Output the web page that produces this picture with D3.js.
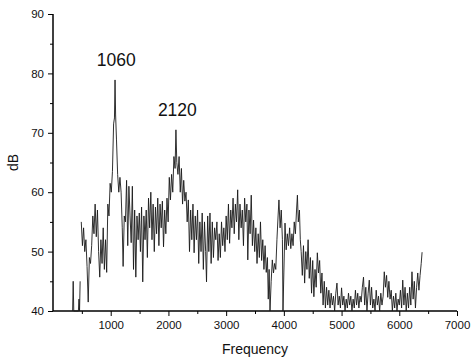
<!DOCTYPE html>
<html>
<head>
<meta charset="utf-8">
<script src="https://cdn.jsdelivr.net/npm/d3@7"></script>
<style>
  body { margin: 0; background: #fff; }
  text { font-family: "Liberation Sans", Arial, sans-serif; }
</style>
</head>
<body>
<div id="chart"></div>
<script>
// spectrum (Hz, dB); null breaks the trace
const freq = [
  340, 350, 360, 440, 450, 460, 470, 480,
  490, 510, 530, 550, 570, 590, 610, 630, 650, 670, 690, 710, 730, 750, 770, 790, 810, 830, 850, 870, 890, 910, 930, 950, 970, 990,
  1010, 1030, 1050, 1065, 1075, 1085, 1100, 1120, 1140, 1160, 1180, 1200, 1215, 1235, 1255, 1275, 1295, 1315, 1335, 1355, 1375, 1395,
  1415, 1435, 1455, 1475, 1495, 1515, 1535, 1555, 1575, 1595, 1615, 1635, 1655, 1675, 1695, 1715, 1735, 1755, 1775, 1795, 1815, 1835,
  1855, 1875, 1895, 1915, 1935, 1955, 1975, 1995, 2015, 2035, 2055, 2075, 2095, 2115, 2130, 2145, 2165, 2185, 2205, 2225, 2245, 2265,
  2285, 2305, 2325, 2345, 2365, 2385, 2405, 2425, 2445, 2465, 2485, 2505, 2525, 2545, 2565, 2585, 2605, 2625, 2645, 2660, 2680, 2700,
  2720, 2740, 2760, 2780, 2800, 2820, 2840, 2860, 2880, 2900, 2920, 2940, 2960, 2980, 3000, 3020, 3040, 3060, 3080, 3100, 3120, 3140,
  3160, 3180, 3200, 3220, 3240, 3260, 3280, 3300, 3320, 3340, 3360, 3375, 3395, 3415, 3435, 3455, 3475, 3495, 3515, 3535, 3555, 3575,
  3595, 3615, 3635, 3655, 3675, 3695, 3715, 3730, 3745, 3760, 3780, 3800, 3820, 3840, 3860, 3880, 3900, 3915, 3935, 3955, 3975, 3985,
  4000, 4020, 4040, 4060, 4080, 4100, 4120, 4140, 4160, 4180, 4200, 4220, 4235, 4250, 4270, 4285, 4300, 4320, 4340, 4360, 4380, 4400,
  4420, 4440, 4460, 4480, 4500, 4520, 4540, 4560, 4580, 4600, 4620, 4640, 4660, 4680, 4700, 4720, 4740, 4760, 4780, 4800, 4820, 4840,
  4860, 4880, 4900, 4920, 4940, 4960, 4980, 5000, 5020, 5040, 5060, 5080, 5100, 5120, 5140, 5160, 5180, 5200, 5220, 5240, 5260, 5280,
  5300, 5320, 5340, 5360, 5380, 5400, 5420, 5440, 5460, 5480, 5500, 5520, 5540, 5560, 5580, 5600, 5620, 5640, 5660, 5680, 5700, 5720,
  5740, 5760, 5780, 5800, 5820, 5840, 5860, 5880, 5900, 5920, 5940, 5960, 5980, 6000, 6020, 6040, 6060, 6080, 6100, 6120, 6140, 6160,
  6180, 6200, 6220, 6240, 6260, 6280, 6300, 6320, 6340, 6360, 6380, 6395
];
const dB = [
  40, 45, 40, 40, 42, 40, 45, null,
  55, 51, 54, 50, 52, 47.5, 41.5, 49, 48, 51, 56, 53, 58, 52.5, 57, 50, 45.7, 52, 48, 54, 47, 52, 46.5, 58, 56, 61.5,
  60, 63.5, 71.5, 72.5, 78.9, 73, 68.8, 63, 60, 62.5, 60, 54, 47.5, 56, 55, 62, 51, 61, 56, 51.5, 61, 47,
  57, 45.7, 56, 52, 56.5, 50, 57.5, 44.9, 56, 52, 57, 49, 59, 54, 60, 52, 58, 50, 57.5, 53, 59, 51,
  58, 54, 58.5, 50.8, 57, 53, 59, 55, 62.5, 58.7, 63, 60, 66, 64, 70.5, 65, 63, 66, 60, 64, 58, 62,
  58.5, 60, 55, 58.7, 50, 57, 52, 58, 49.8, 56, 52, 57, 48, 55, 50, 56.5, 47, 55, 50, 44.9, 56, 50,
  56.5, 48, 55, 49, 54, 52, 55, 48.5, 53, 49, 55, 51, 54, 50, 56, 52, 58, 51.4, 57, 54, 59, 53,
  58, 55, 60.4, 52, 58, 54, 57, 51, 59, 55, 58, 48.6, 57, 53, 59.5, 51, 55.3, 50, 54, 48, 53, 49,
  55, 48.5, 52, 47, 51, 46.5, 49, 42, 47, 40, 45, 48.6, 46.4, 48, 47, 52, 56, 58.7, 54, 57, 52, 40,
  46.4, 54.8, 50.3, 53, 51, 54, 50.5, 53, 51, 55, 53, 57, 59.5, 55, 57, 52, 50, 46, 51, 44.7, 50, 47,
  52, 45.5, 49, 43, 48.5, 42.4, 47, 44, 49.8, 46.4, 48.5, 43, 46.4, 41, 45, 40.5, 44, 41, 43.5, 40.5, 43, 41,
  42.5, 40, 43, 44.7, 41, 42.5, 40.5, 43.9, 41, 42.5, 40, 42, 40.5, 43, 41, 42.5, 40, 42, 40.5, 43.5, 41, 43,
  40.5, 42.5, 41.5, 44, 45.7, 41, 44, 40, 43, 45.2, 41, 44, 40.5, 42, 40, 43.5, 41, 42.5, 40, 43, 41, 42.5,
  46.6, 44, 46, 42.3, 45, 42, 43.5, 40, 42.5, 40.5, 43, 40, 42, 41, 43.5, 40.5, 45.2, 41, 44, 40, 43, 40.5,
  44, 41, 46.6, 42, 45, 40.5, 44, 46.4, 43.5, 46, 48, 49.9
];
const xTicks = [1000, 2000, 3000, 4000, 5000, 6000, 7000];
const xMinor = [500, 1500, 2500, 3500, 4500, 5500, 6500];
const yTicks = [40, 50, 60, 70, 80, 90];
const yMinor = [45, 55, 65, 75, 85];
const peaks = [
  { f: 1060, label: "1060", at: 81.2 },
  { f: 2120, label: "2120", at: 72.8 }
];

const width = 471, height = 363;
const margin = { top: 14, right: 14, bottom: 52, left: 53 };

const svg = d3.select("#chart").append("svg")
  .attr("width", width)
  .attr("height", height);

const x = d3.scaleLinear().domain([0, 7000]).range([margin.left, width - margin.right]);
const y = d3.scaleLinear().domain([40, 90]).range([height - margin.bottom, margin.top]);

// Axes
const xAxis = g => g
  .attr("transform", `translate(0,${height - margin.bottom})`)
  .call(d3.axisBottom(x).tickValues(xTicks).tickFormat(d3.format("d"))
    .tickSize(5).tickPadding(5).tickSizeOuter(0))
  .call(g => g.select(".domain").attr("stroke-width", 1.5).attr("d", `M${x(0)},0H${x(7000)}`));

const yAxis = g => g
  .attr("transform", `translate(${margin.left},0)`)
  .call(d3.axisLeft(y).tickValues(yTicks).tickSize(5).tickPadding(4).tickSizeOuter(0))
  .call(g => g.select(".domain").attr("stroke-width", 1.5).attr("d", `M0,${y(40)}V${y(90)}`));

svg.append("g").call(xAxis)
  .call(g => g.selectAll("text").attr("font-size", 11.5).attr("fill", "#111"));
svg.append("g").call(yAxis)
  .call(g => g.selectAll("text").attr("font-size", 11.5).attr("fill", "#111"));

// minor ticks
svg.append("g")
  .attr("transform", `translate(0,${height - margin.bottom})`)
  .call(d3.axisBottom(x).tickValues(xMinor).tickSize(3).tickFormat(""))
  .call(g => g.select(".domain").remove());
svg.append("g")
  .attr("transform", `translate(${margin.left},0)`)
  .call(d3.axisLeft(y).tickValues(yMinor).tickSize(3).tickFormat(""))
  .call(g => g.select(".domain").remove());

// axis titles
svg.append("text")
  .attr("x", (x(0) + x(7000)) / 2)
  .attr("y", 354)
  .attr("text-anchor", "middle")
  .attr("font-size", 14)
  .attr("fill", "#111")
  .text("Frequency");

svg.append("text")
  .attr("transform", `translate(18,${(y(40) + y(90)) / 2}) rotate(-90)`)
  .attr("text-anchor", "middle")
  .attr("font-size", 14)
  .attr("fill", "#111")
  .text("dB");

// spectrum trace
const points = freq.map((f, i) => [f, dB[i]]);
const line = d3.line()
  .defined(d => d[1] !== null)
  .x(d => x(d[0]))
  .y(d => y(d[1]));

svg.append("path")
  .datum(points)
  .attr("fill", "none")
  .attr("stroke", "#1a1a1a")
  .attr("stroke-width", 0.9)
  .attr("stroke-linejoin", "miter")
  .attr("d", line);

// peak labels
svg.append("g")
  .selectAll("text")
  .data(peaks)
  .join("text")
  .attr("x", d => x(d.f) + 2)
  .attr("y", d => y(d.at))
  .attr("text-anchor", "middle")
  .attr("font-size", 17.5)
  .attr("fill", "#111")
  .text(d => d.label);
</script>
</body>
</html>
